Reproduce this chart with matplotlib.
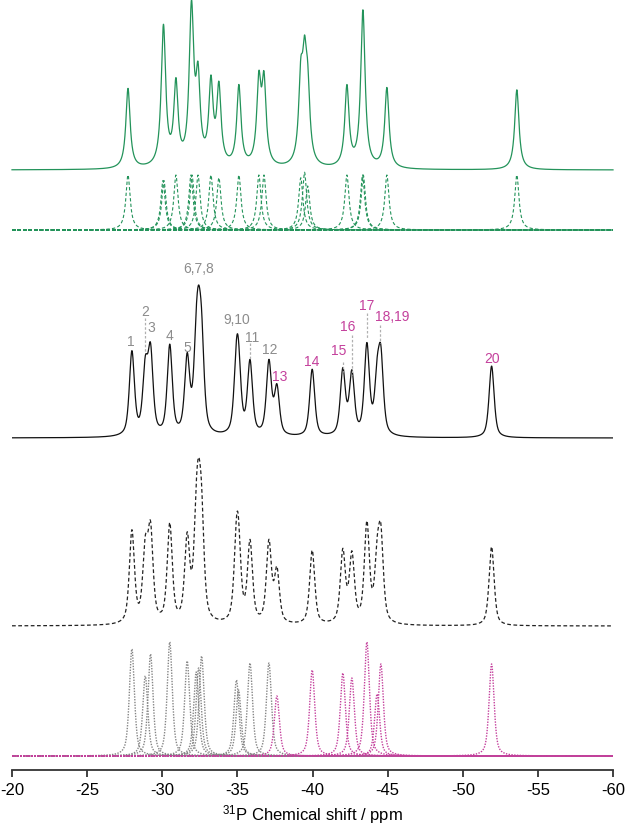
import numpy as np
import matplotlib
matplotlib.use("Agg")
import matplotlib.pyplot as plt

plt.rcParams['font.family'] = ['Liberation Sans', 'DejaVu Sans']
plt.rcParams['axes.unicode_minus'] = False
plt.rcParams['mathtext.default'] = 'regular'

# simulated (green) spectrum: line positions in ppm, relative intensities
calc_pos = [-27.72, -30.05, -30.11, -30.91, -31.91, -31.98, -32.38, -33.24, -33.77,
            -35.10, -36.43, -36.77, -39.22, -39.47, -39.68, -42.29, -43.33, -43.38,
            -44.95, -53.60]
calc_amp = [1.0, 0.9, 0.9, 1.0, 1.0, 1.0, 1.0, 1.0, 0.95,
            1.0, 1.0, 1.0, 0.95, 1.05, 0.8, 1.0, 1.0, 1.0,
            1.0, 1.0]

# deconvolution of the experimental spectrum (peaks 1-20)
fit_pos = [-27.98, -28.87, -29.22, -30.50, -31.66, -32.26, -32.42, -32.62, -34.94, -35.08,
           -35.84, -37.10, -37.63, -39.98, -42.02, -42.62, -43.62, -44.30, -44.55, -51.92]
fit_amp = [107, 80, 102, 114, 95, 84, 88, 100, 76, 66,
           93, 93, 60, 86, 83, 78, 114, 62, 92, 92]
fit_group = ['g'] * 12 + ['m'] * 8

# peak labels: text, ppm, height above the axis
lab_text = ['1', '2', '3', '4', '5', '6,7,8', '9,10', '11', '12', '13', '14',
            '15', '16', '17', '18,19', '20']
lab_ppm = [-27.92, -28.85, -29.25, -30.45, -31.64, -32.44, -34.97, -35.97, -37.17,
           -37.83, -39.96, -41.76, -42.36, -43.62, -45.28, -51.94]
lab_y = [428, 458, 442, 434, 422, 501, 450, 432, 420, 393, 408, 419, 443, 464, 453, 411]
lab_color = ['g'] * 9 + ['m'] * 7

# dashed leader lines: ppm, y from, y to
lead_ppm = [-28.85, -35.84, -42.02, -42.62, -43.62, -44.48]
lead_y0 = [452, 427, 408, 435, 457, 445]
lead_y1 = [418, 410, 398, 395, 432, 427]

GREEN = '#23935a'
GRAY = '#8c8c8c'
MAG = '#c4409c'


def lorentz(x, x0, w):
    return 1.0 / (1.0 + ((x - x0) / w) ** 2)


def pvoigt(x, x0, w, eta=0.6):
    d = (x - x0) / w
    return eta / (1.0 + d ** 2) + (1 - eta) * np.exp(-np.log(2) * d ** 2)


x = np.linspace(-20, -60, 6000)

fig = plt.figure(figsize=(6.26, 8.3), dpi=100)
ax = fig.add_axes([12 / 626, 60 / 830, 601 / 626, 770 / 830])
ax.set_xlim(-20, -60)
ax.set_ylim(0, 770)

# green simulated spectrum + its components
calc_w = 0.17
calc_sum = np.zeros_like(x)
for p, a in zip(calc_pos, calc_amp):
    comp = a * lorentz(x, p, calc_w)
    calc_sum += comp
    ax.plot(x, 540 + 55 * comp, color=GREEN, lw=0.8, ls=(0, (3, 2)), clip_on=False)
ax.plot(x, 600 + 80 * calc_sum, color=GREEN, lw=0.9, clip_on=False)

# experimental, fit and components
fit_w = 0.2
fit_sum = np.zeros_like(x)
comps = []
for p, a, g in zip(fit_pos, fit_amp, fit_group):
    comp = a * pvoigt(x, p, fit_w)
    fit_sum += comp
    comps.append((comp, g))
for comp, g in comps:
    if g == 'g':
        ax.plot(x, 14 + comp, color='#858585', lw=1.0, ls=(0, (1, 1)))
for comp, g in comps:
    if g == 'm':
        ax.plot(x, 14 + comp, color=MAG, lw=1.0, ls=(0, (1, 1)))

ax.plot(x, 144 + 0.86 * fit_sum, color='#222222', lw=0.9, ls=(0, (3, 2)))
ax.plot(x, 332 + 0.78 * fit_sum, color='#111111', lw=0.9)

for t, p, y, c in zip(lab_text, lab_ppm, lab_y, lab_color):
    ax.text(p, y, t, color=GRAY if c == 'g' else MAG, fontsize=10,
            ha='center', va='center')
for p, y0, y1 in zip(lead_ppm, lead_y0, lead_y1):
    ax.plot([p, p], [y0, y1], color='#b0b0b0', lw=0.9, ls=(0, (2, 1.5)))

for s in ['left', 'right', 'top']:
    ax.spines[s].set_visible(False)
ax.spines['bottom'].set_linewidth(1.3)
ax.spines['bottom'].set_color('#333333')
ax.set_yticks([])
ax.set_xticks([-20, -25, -30, -35, -40, -45, -50, -55, -60])
ax.tick_params(axis='x', direction='out', length=5, width=1.3, color='#333333',
               labelsize=12, pad=4)
ax.set_xlabel('$^{31}$P Chemical shift / ppm', fontsize=12, labelpad=4)

fig.savefig('out.png', dpi=100)
